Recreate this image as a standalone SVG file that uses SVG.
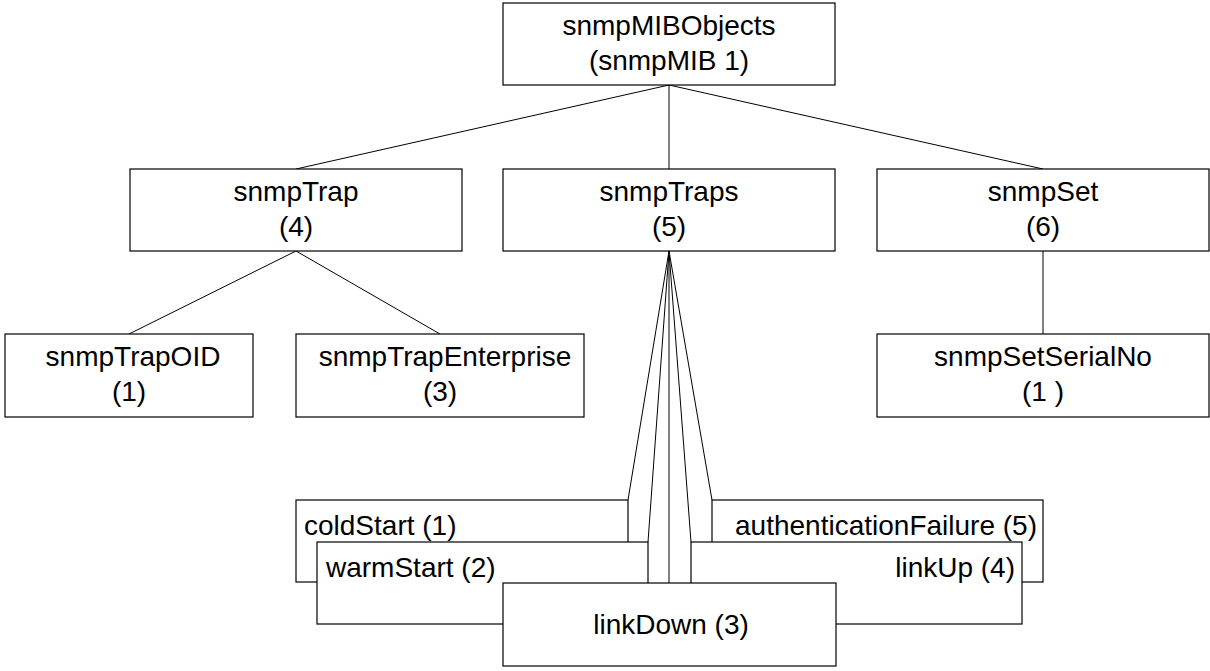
<svg xmlns="http://www.w3.org/2000/svg" width="1210" height="671" viewBox="0 0 1210 671">
  <style>
    .box { fill: #ffffff; stroke: #000000; stroke-width: 1.2; }
    .edge { fill: none; stroke: #000000; stroke-width: 1; }
    text { font-family: "Liberation Sans", Arial, sans-serif; font-size: 28px; fill: #000000; }
    .c { text-anchor: middle; }
    .l { text-anchor: start; }
    .r { text-anchor: end; }
  </style>

  <!-- tree connectors -->
  <g id="connectors">
    <line class="edge" x1="669" y1="85" x2="296" y2="169"/>
    <line class="edge" x1="669" y1="85" x2="669" y2="169"/>
    <line class="edge" x1="669" y1="85" x2="1043" y2="169"/>
    <line class="edge" x1="296" y1="251" x2="129" y2="334"/>
    <line class="edge" x1="296" y1="251" x2="440" y2="334"/>
    <line class="edge" x1="1043" y1="251" x2="1043" y2="334"/>
    <!-- fan from snmpTraps to the five trap notifications -->
    <line class="edge" x1="669" y1="251" x2="628" y2="500"/>
    <line class="edge" x1="669" y1="251" x2="648" y2="542"/>
    <line class="edge" x1="669" y1="251" x2="669" y2="583"/>
    <line class="edge" x1="669" y1="251" x2="691" y2="542"/>
    <line class="edge" x1="669" y1="251" x2="712" y2="500"/>
  </g>

  <g id="snmpMIBObjects">
    <rect class="box" x="503" y="3" width="332" height="82"/>
    <text class="c" x="669" y="35">snmpMIBObjects</text>
    <text class="c" x="669" y="70">(snmpMIB 1)</text>
  </g>

  <g id="snmpTrap">
    <rect class="box" x="130" y="169" width="332" height="82"/>
    <text class="c" x="296" y="201">snmpTrap</text>
    <text class="c" x="296" y="236">(4)</text>
  </g>

  <g id="snmpTraps">
    <rect class="box" x="503" y="169" width="332" height="82"/>
    <text class="c" x="669" y="201">snmpTraps</text>
    <text class="c" x="669" y="236">(5)</text>
  </g>

  <g id="snmpSet">
    <rect class="box" x="877" y="169" width="332" height="82"/>
    <text class="c" x="1043" y="201">snmpSet</text>
    <text class="c" x="1043" y="236">(6)</text>
  </g>

  <g id="snmpTrapOID">
    <rect class="box" x="5" y="334" width="248" height="83"/>
    <text class="c" x="133" y="366">snmpTrapOID</text>
    <text class="c" x="129" y="401">(1)</text>
  </g>

  <g id="snmpTrapEnterprise">
    <rect class="box" x="296" y="334" width="288" height="83"/>
    <text class="c" x="445" y="366">snmpTrapEnterprise</text>
    <text class="c" x="440" y="401">(3)</text>
  </g>

  <g id="snmpSetSerialNo">
    <rect class="box" x="877" y="334" width="332" height="83"/>
    <text class="c" x="1043" y="366">snmpSetSerialNo</text>
    <text class="c" x="1043" y="401">(1 )</text>
  </g>

  <!-- stacked notification boxes, back to front -->
  <g id="coldStart">
    <rect class="box" x="296" y="500" width="332" height="82"/>
    <text class="l" x="304" y="535">coldStart (1)</text>
  </g>

  <g id="authenticationFailure">
    <rect class="box" x="712" y="500" width="331" height="82"/>
    <text class="r" x="1037" y="535">authenticationFailure (5)</text>
  </g>

  <g id="warmStart">
    <rect class="box" x="317" y="542" width="331" height="82"/>
    <text class="l" x="326" y="577">warmStart (2)</text>
  </g>

  <g id="linkUp">
    <rect class="box" x="691" y="542" width="331" height="82"/>
    <text class="r" x="1015" y="577">linkUp (4)</text>
  </g>

  <g id="linkDown">
    <rect class="box" x="503" y="583" width="333" height="83"/>
    <text class="c" x="671" y="634">linkDown (3)</text>
  </g>
</svg>
